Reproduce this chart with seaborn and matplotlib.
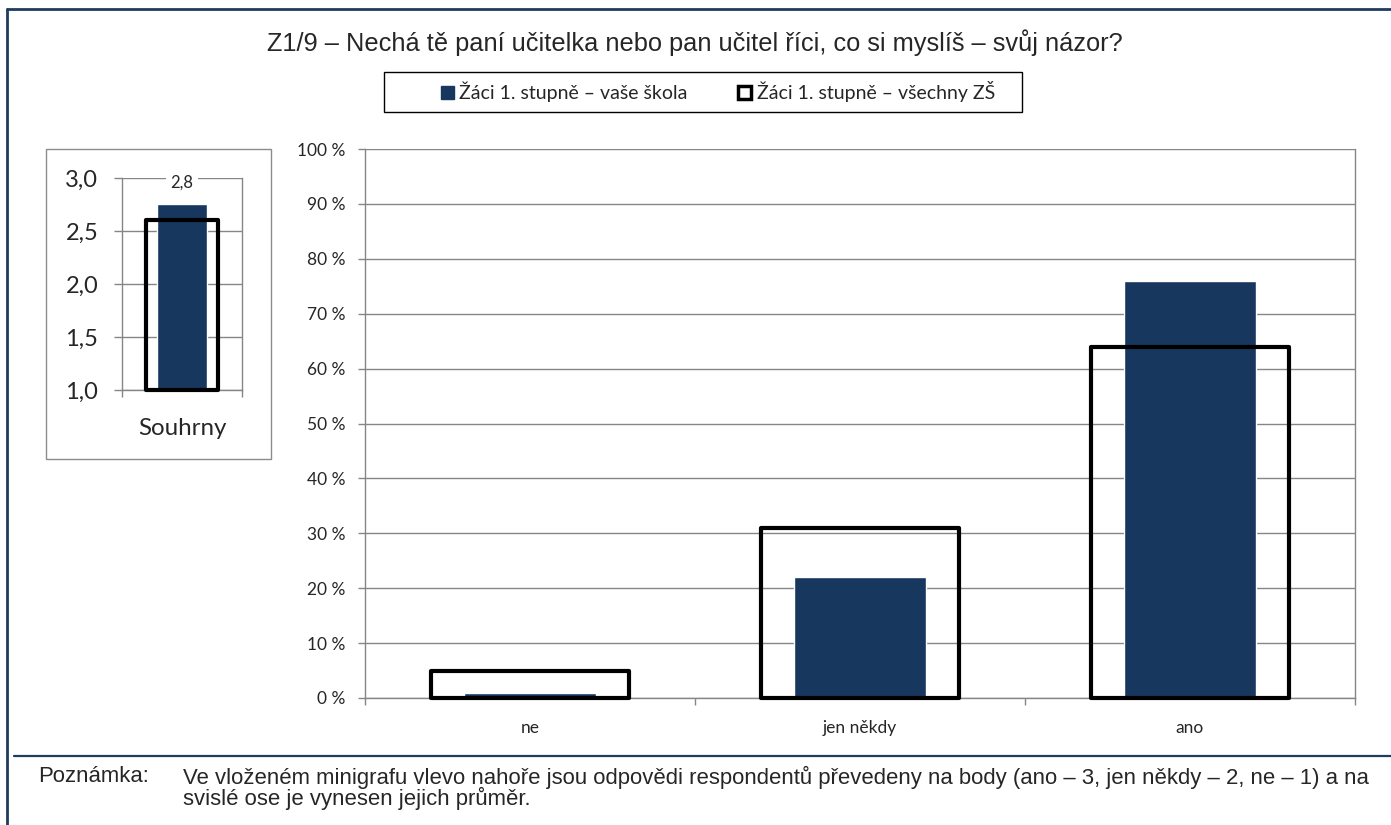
import numpy as np
import pandas as pd
import seaborn as sns
import matplotlib.pyplot as plt
from matplotlib.patches import Patch, Rectangle
from matplotlib.lines import Line2D
from matplotlib.ticker import FuncFormatter

# data
categories = ['ne', 'jen někdy', 'ano']
school_pct = [1, 22, 76]
all_pct = [5, 31, 64]
summary_cat = ['Souhrny']
school_mean = [2.75]
all_mean = [2.6]
series_names = ['Žáci 1. stupně – vaše škola', 'Žáci 1. stupně – všechny ZŠ']

title = 'Z1/9 – Nechá tě paní učitelka nebo pan učitel říci, co si myslíš – svůj názor?'
note_head = 'Poznámka:'
note_lines = ['Ve vloženém minigrafu vlevo nahoře jsou odpovědi respondentů převedeny na body '
              '(ano – 3, jen někdy – 2, ne – 1) a na',
              'svislé ose je vynesen jejich průměr.']

navy = '#17375E'
grid_col = '#868686'
frame_col = '#1F3B5E'
arial = ['Liberation Sans', 'DejaVu Sans']

sns.set_style('white')
plt.rcParams['font.family'] = ['Lato', 'DejaVu Sans']

W, H = 1391, 825
fig = plt.figure(figsize=(W / 100, H / 100), dpi=100)

def fx(px):
    return px / W

def fy(py):
    return 1 - py / H

# outer frame (left + top) and separator
fig.add_artist(Line2D([fx(7), fx(7)], [0, fy(9)], color=frame_col, lw=2))
fig.add_artist(Line2D([fx(7), 1], [fy(9), fy(9)], color=frame_col, lw=2))
fig.add_artist(Line2D([fx(14), 1], [fy(756), fy(756)], color=frame_col, lw=1.6))

fig.text(fx(695), fy(43), title, ha='center', va='center', fontsize=18.3, family=arial)

# main chart
main_df = pd.DataFrame({'cat': categories, 'school': school_pct, 'all': all_pct})
ax = fig.add_axes([fx(365), fy(698), fx(1355 - 365), (698 - 149) / H])
sns.barplot(data=main_df, x='cat', y='school', color=navy, width=0.4, saturation=1, ax=ax)
n0 = len(ax.patches)
sns.barplot(data=main_df, x='cat', y='all', color='white', width=0.6, saturation=1, ax=ax)
for p in ax.patches[n0:]:
    p.set_facecolor('none')
    p.set_edgecolor('black')
    p.set_linewidth(3)
    p.set_joinstyle('round')
    p.set_clip_on(False)
    p.set_zorder(3)
ax.set_xlim(-0.5, 2.5)
ax.set_ylim(0, 100)
ax.set_yticks(np.arange(0, 101, 10))
ax.yaxis.set_major_formatter(FuncFormatter(lambda v, pos: f'{v:.0f} %'))
ax.yaxis.grid(True, color=grid_col, lw=1)
ax.set_axisbelow(True)
ax.set_xlabel('')
ax.set_ylabel('')
for s in ['left', 'bottom', 'right']:
    ax.spines[s].set_color(grid_col)
    ax.spines[s].set_linewidth(1)
ax.spines['top'].set_visible(False)
ax.set_xticks([-0.5, 0.5, 1.5, 2.5], minor=True)
ax.tick_params(axis='x', which='major', length=0, pad=16, labelsize=12.5)
ax.tick_params(axis='x', which='minor', length=5, color=grid_col, width=1, direction='out', bottom=True)
ax.tick_params(axis='y', length=5, color=grid_col, width=1, direction='out', left=True, pad=9, labelsize=12.5)

# legend
fig.add_artist(Rectangle((fx(384), fy(112)), fx(1022 - 384), (112 - 72) / H,
                         transform=fig.transFigure, fill=False, edgecolor='black', lw=1))
handles = [Patch(facecolor=navy, edgecolor=navy),
           Patch(facecolor='white', edgecolor='black', linewidth=2.5)]
fig.legend(handles, series_names, loc='center', bbox_to_anchor=(fx(718), fy(92)), ncol=2,
           frameon=False, handlelength=0.67, handleheight=0.67, handletextpad=0.3,
           columnspacing=2.6, fontsize=14)

# mini chart
fig.add_artist(Rectangle((fx(46), fy(459)), fx(271 - 46), (459 - 149) / H,
                         transform=fig.transFigure, fill=False, edgecolor='#8c8c8c', lw=1))
mini_df = pd.DataFrame({'cat': summary_cat, 'school': school_mean, 'all': all_mean})
ax2 = fig.add_axes([fx(122), fy(390), fx(120), (390 - 178) / H])
sns.barplot(data=mini_df, x='cat', y='school', color=navy, width=0.41, saturation=1, ax=ax2)
m0 = len(ax2.patches)
sns.barplot(data=mini_df, x='cat', y='all', color='white', width=0.6, saturation=1, ax=ax2)
for p in ax2.patches:
    h = p.get_height()
    p.set_y(1.0)
    p.set_height(h - 1.0)
for p in ax2.patches[m0:]:
    p.set_facecolor('none')
    p.set_edgecolor('black')
    p.set_linewidth(3)
    p.set_joinstyle('round')
    p.set_clip_on(False)
    p.set_zorder(3)
ax2.set_xlim(-0.5, 0.5)
ax2.set_ylim(1, 3)
ax2.set_yticks([1, 1.5, 2, 2.5, 3])
ax2.yaxis.set_major_formatter(FuncFormatter(lambda v, pos: f'{v:.1f}'.replace('.', ',')))
ax2.yaxis.grid(True, color=grid_col, lw=1)
ax2.set_axisbelow(True)
ax2.set_xlabel('')
ax2.set_ylabel('')
for s in ['left', 'bottom', 'right']:
    ax2.spines[s].set_color(grid_col)
    ax2.spines[s].set_linewidth(1)
ax2.spines['top'].set_visible(False)
ax2.set_xticks([-0.5, 0.5], minor=True)
ax2.tick_params(axis='x', which='major', length=0, pad=20, labelsize=17.4)
ax2.tick_params(axis='x', which='minor', length=5, color=grid_col, width=1, direction='out', bottom=True)
ax2.tick_params(axis='y', length=6, color=grid_col, width=1, direction='out', left=True, pad=11, labelsize=17)
ax2.text(0, 2.96, f'{school_mean[0]:.1f}'.replace('.', ','), ha='center', va='center', fontsize=12,
         bbox=dict(facecolor='white', edgecolor='none', pad=3), zorder=5)

# note
fig.text(fx(38), fy(777), note_head, ha='left', va='center', fontsize=15.9, family=arial)
for i, line in enumerate(note_lines):
    fig.text(fx(183), fy(777 + 21 * i), line, ha='left', va='center', fontsize=15.9, family=arial)

fig.savefig('out.png', dpi=100)
